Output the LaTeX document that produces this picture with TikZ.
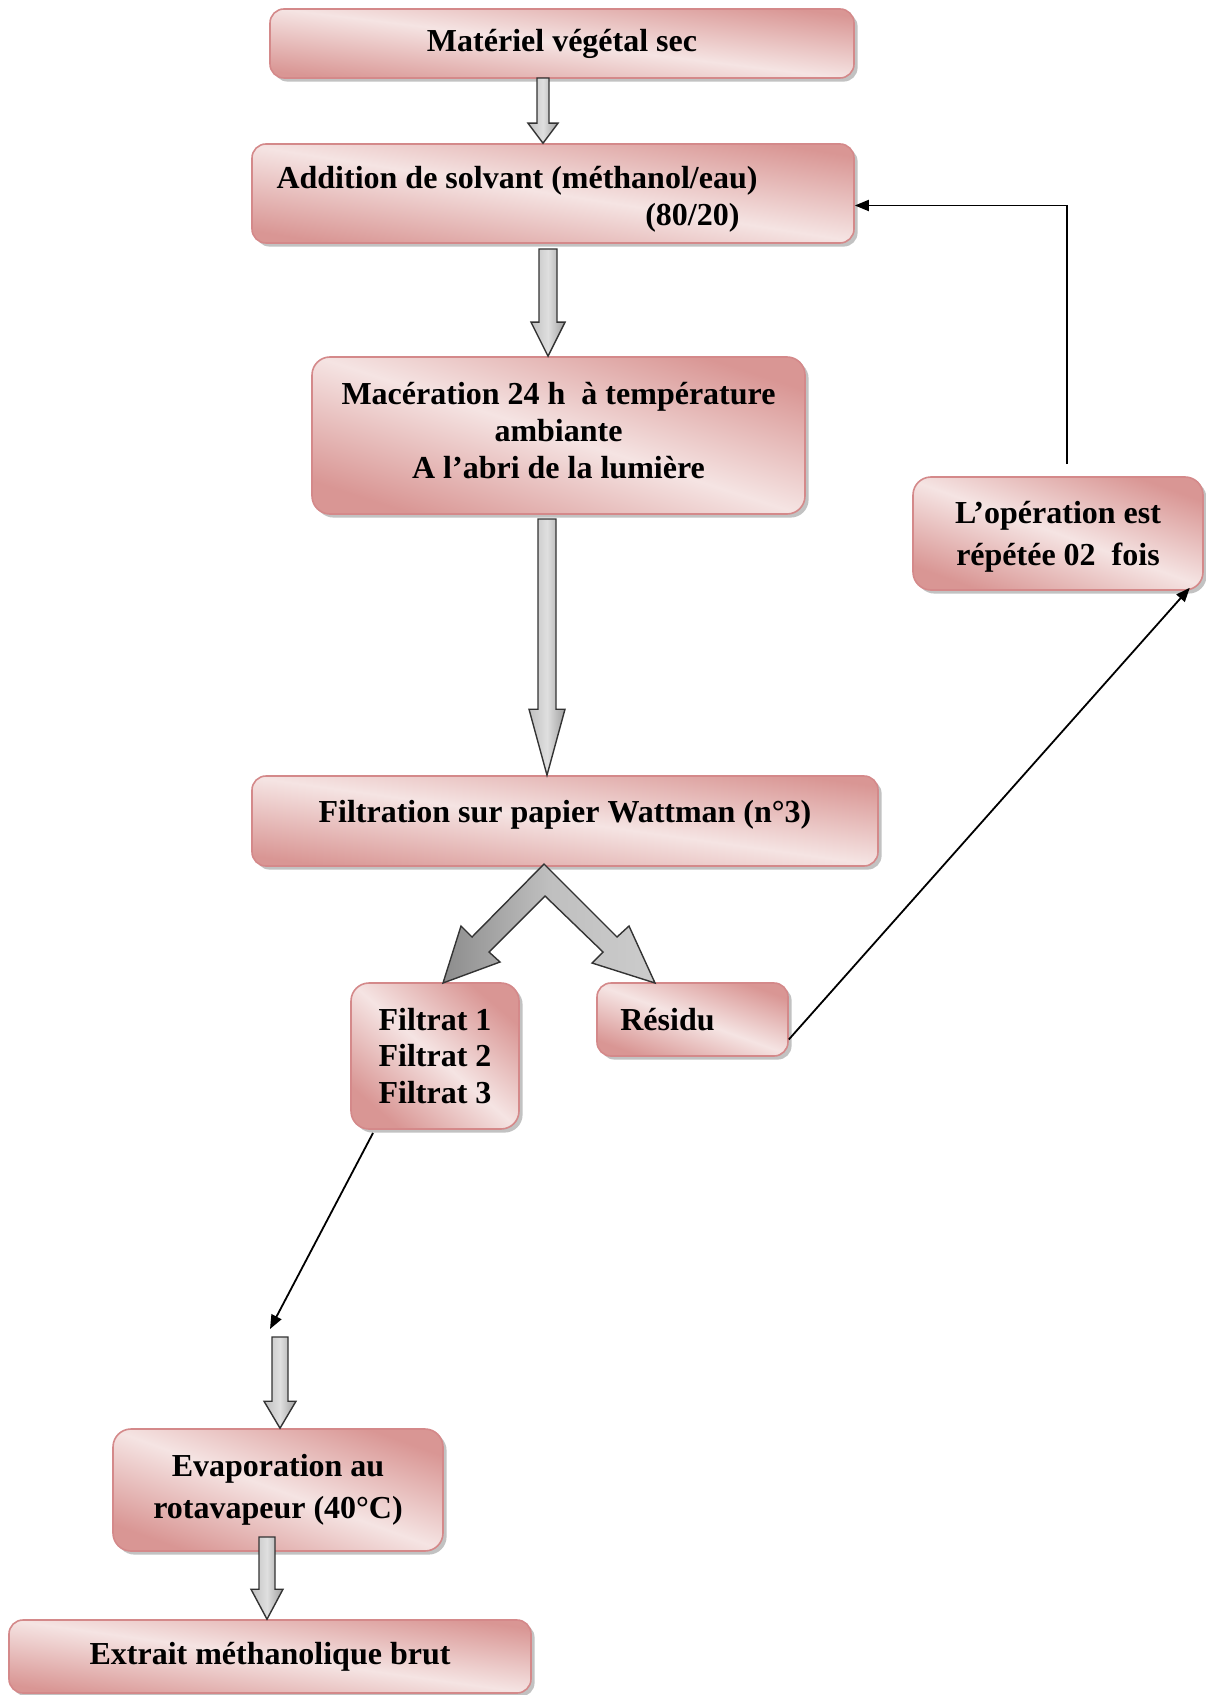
\documentclass[tikz,border=0pt]{standalone}
\usepackage{fontspec}
\setmainfont{Liberation Serif}
\usetikzlibrary{calc,shadows,arrows.meta}

\definecolor{pinkdark}{HTML}{D99694}
\definecolor{pinklight}{HTML}{F5E4E3}
\definecolor{pinkedge}{HTML}{D4898A}

% hollow grey block arrow pointing down: start, target, half shaft, half head, head length
\newcommand{\blockarrow}[5]{%
  \path[blockarrow] let \p1=(#1), \p2=(#2) in
    (\x1-#3,\y1) -- (\x1+#3,\y1) -- (\x1+#3,\y2+#5) -- (\x1+#4,\y2+#5)
    -- (\x1,\y2) -- (\x1-#4,\y2+#5) -- (\x1-#3,\y2+#5) -- cycle;}

\begin{document}
\begin{tikzpicture}[x=0.5pt, y=-0.5pt,
    stepbox/.style={rectangle, rounded corners=7pt, draw=pinkedge, line width=0.8pt,
      top color=pinkdark, bottom color=pinkdark, middle color=pinklight, shading angle=-20,
      drop shadow={shadow xshift=1.8pt, shadow yshift=-1.8pt, fill=gray!80, opacity=0.6},
      font=\bfseries\fontsize{16}{18.4}\selectfont, align=center, inner sep=2pt},
    wideleading/.style={font=\bfseries\fontsize{16}{21}\selectfont},
    blockarrow/.style={draw=gray!40!black, line width=0.7pt,
      left color=gray!50, right color=gray!75, middle color=gray!25},
    thinarrow/.style={-{Triangle[length=7pt, width=5.5pt]}, line width=0.9pt}]
    \useasboundingbox (0,0) rectangle (1205,1695);

    % --- Process boxes (top to bottom) ---
    \node[stepbox, shading angle=-7, minimum width=292pt, minimum height=34.5pt] (materiel) at (562,43.5) {Matériel végétal sec};
    \node[stepbox, shading angle=-9, minimum width=301pt, minimum height=49.5pt, align=right] (addition) at (553,193.5)
      {\rule{0pt}{16.7pt}Addition de solvant (méthanol/eau)\hspace*{36pt}\\(80/20)\hspace*{45pt}};
    \node[stepbox, shading angle=-18, rounded corners=9pt, minimum width=246.5pt, minimum height=78.5pt] (maceration) at (558.5,435.5)
      {Macération 24 h~ à température\\ambiante\\A l’abri de la lumière\rule[-5.4pt]{0pt}{0pt}};
    \node[stepbox, shading angle=-8, minimum width=313pt, minimum height=45pt, text height=11.3pt, text depth=9.9pt]
      (filtration) at (565,821) {Filtration sur papier Wattman (n°3)};
    \node[stepbox, shading angle=-41, rounded corners=9pt, minimum width=84pt, minimum height=73pt] (filtrat) at (435,1056)
      {Filtrat 1\\Filtrat 2\\Filtrat 3};
    \node[stepbox, minimum width=95.5pt, minimum height=36.5pt] (residu) at (692.5,1019.5) {Résidu\hspace*{25pt}};
    \node[stepbox, wideleading, rounded corners=9pt, minimum width=145pt, minimum height=56.5pt] (operation) at (1058,533.5)
      {\rule{0pt}{14.5pt}L’opération est\\répétée 02~ fois};
    \node[stepbox, wideleading, rounded corners=9pt, minimum width=165pt, minimum height=61pt] (evaporation) at (278,1490)
      {Evaporation au\\rotavapeur (40°C)};
    \node[stepbox, shading angle=-8, minimum width=261pt, minimum height=36.5pt] (extrait) at (270,1656.5) {Extrait méthanolique brut};

    % --- Block arrows ---
    \coordinate (a1) at (543,78);
    \coordinate (a2) at (548,249);
    \coordinate (a3) at (547,519);
    \coordinate (a4) at (280,1337);
    \coordinate (a5) at (267,1537);
    \blockarrow{a1}{addition.north}{3pt}{7.5pt}{10pt}
    \blockarrow{a2}{maceration.north}{4.5pt}{8.5pt}{17pt}
    \blockarrow{a3}{filtration.north}{4.5pt}{9pt}{33pt}
    \blockarrow{a4}{evaporation.north}{4pt}{8pt}{13.5pt}
    \blockarrow{a5}{extrait.north}{4pt}{8pt}{15pt}

    % split arrow under the filtration (filtrat left, residu right)
    \path[blockarrow, left color=gray!90, right color=gray!40, middle color=gray!50]
      (544,864) -- (617,937) -- (629,926) -- (655,983) -- (592,963) -- (603,952) -- (545,896)
      -- (489,952) -- (500,962) -- (443,983) -- (461,926) -- (472,937) -- cycle;

    % --- Thin connectors ---
    \coordinate (filtratout) at (373,1133);
    \coordinate (evapin) at (270,1329);
    \draw[thinarrow] (filtratout) -- (evapin);
    \draw[thinarrow] ([yshift=-10pt]residu.east) -- ([xshift=-7pt, yshift=1.5pt]operation.south east);
    \draw[thinarrow] ([xshift=4.5pt, yshift=6pt]operation.north) |- ([yshift=-6pt]addition.east);

\end{tikzpicture}
\end{document}
